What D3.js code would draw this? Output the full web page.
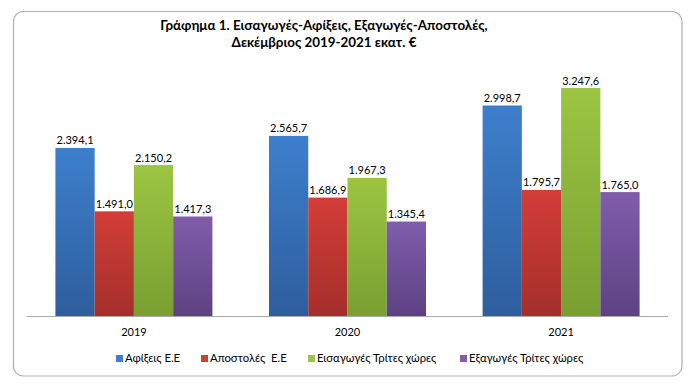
<!DOCTYPE html>
<html><head><meta charset="utf-8">
<script src="https://cdn.jsdelivr.net/npm/d3@7"></script>
<style>body{margin:0;background:#fff}svg{display:block}text{font-family:Lato,"Open Sans",sans-serif}</style>
</head><body><svg id="c" width="700" height="391"></svg>
<script>
const years = ["2019","2020","2021"];
const seriesNames = ["Αφίξεις Ε.Ε","Αποστολές  Ε.Ε","Εισαγωγές Τρίτες χώρες","Εξαγωγές Τρίτες χώρες"];
const afixeis = [2394.1, 2565.7, 2998.7];
const apostoles = [1491.0, 1686.9, 1795.7];
const eisagoges = [2150.2, 1967.3, 3247.6];
const exagoges = [1417.3, 1345.4, 1765.0];
const titleLines = ["Γράφημα 1. Εισαγωγές-Αφίξεις, Εξαγωγές-Αποστολές,","Δεκέμβριος 2019-2021 εκατ. €"];
const values = [afixeis, apostoles, eisagoges, exagoges];
const colorsTop = ["#3d7fcd","#d33d38","#9cc542","#7f5dab"];
const colorsBot = ["#2e5e9d","#a52f2b","#799f31","#5d4283"];

const svg = d3.select("#c");
const defs = svg.append("defs");
colorsTop.forEach((c,i)=>{
  const g = defs.append("linearGradient").attr("id","g"+i).attr("x1",0).attr("y1",0).attr("x2",0).attr("y2",1);
  g.append("stop").attr("offset","0%").attr("stop-color",c);
  g.append("stop").attr("offset","100%").attr("stop-color",colorsBot[i]);
});

svg.append("rect").attr("x",13.5).attr("y",11.5).attr("width",668.5).attr("height",364.5).attr("rx",10)
  .attr("fill","#fff").attr("stroke","#b0b0b0").attr("stroke-width",1.2);

svg.append("text").attr("text-anchor","middle").attr("font-weight","bold").attr("font-size",13.4).attr("fill","#000")
  .selectAll("tspan").data(titleLines).join("tspan").attr("x",324).attr("y",(d,i)=>30+i*17).text(d=>d);

const x0 = d3.scaleBand().domain(years).range([27,668]).paddingInner(0.265).paddingOuter(0.133);
const x1 = d3.scaleBand().domain(d3.range(4)).range([0,x0.bandwidth()]);
const y = d3.scaleLinear().domain([0,3500]).range([316,316-0.0702*3500]);

const fmt = v => { const s = d3.format(",.1f")(v); return s.replace(/,/g,"#").replace(".",",").replace(/#/g,"."); };

const groups = svg.append("g").selectAll("g").data(years).join("g").attr("transform",d=>`translate(${x0(d)},0)`);
groups.each(function(yr, yi){
  const g = d3.select(this);
  values.forEach((arr, si)=>{
    const v = arr[yi];
    g.append("rect").attr("x",x1(si)).attr("width",x1.bandwidth()).attr("y",y(v)).attr("height",y(0)-y(v)).attr("fill",`url(#g${si})`);
    g.append("text").attr("x",x1(si)+x1.bandwidth()/2).attr("y",y(v)-3.5).attr("text-anchor","middle")
      .attr("font-size",11).attr("fill","#000").text(fmt(v));
  });
});

svg.append("line").attr("x1",27).attr("x2",668).attr("y1",316.5).attr("y2",316.5).attr("stroke","#aaa").attr("stroke-width",1);
const xAxis = svg.append("g");
xAxis.selectAll("text").data(years).join("text").attr("x",d=>x0(d)+x0.bandwidth()/2).attr("y",336)
  .attr("text-anchor","middle").attr("font-size",11).attr("fill","#000").text(d=>d);

const legX = [116, 201, 308, 460];
const leg = svg.append("g").selectAll("g").data(seriesNames).join("g").attr("transform",(d,i)=>`translate(${legX[i]},362)`);
leg.append("rect").attr("x",0).attr("y",-7).attr("width",7).attr("height",7).attr("fill",(d,i)=>colorsTop[i]);
leg.append("text").attr("x",9).attr("y",0).attr("font-size",11.3).attr("fill","#000").attr("xml:space","preserve").style("white-space","pre").text(d=>d);
</script></body></html>
